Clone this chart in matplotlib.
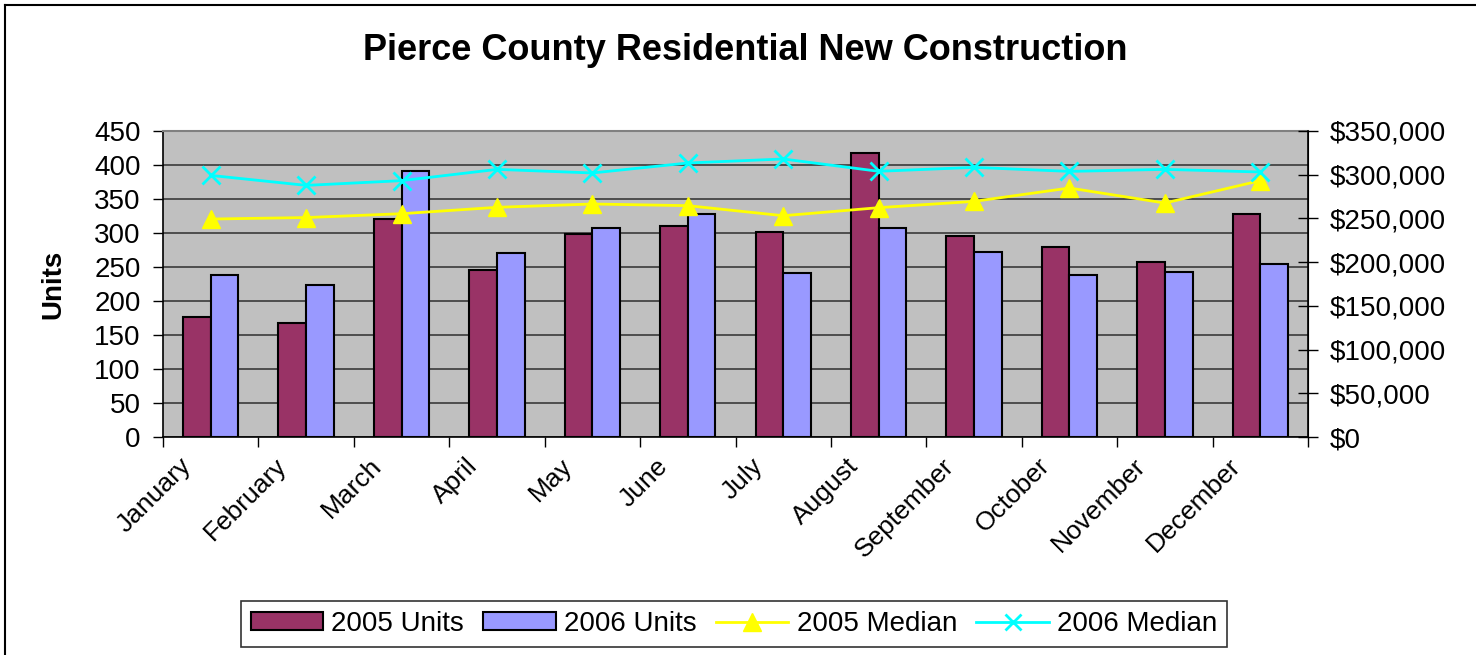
import matplotlib
matplotlib.use("Agg")
import matplotlib.pyplot as plt
import numpy as np
from matplotlib.ticker import FuncFormatter, MultipleLocator, FixedLocator
from matplotlib.transforms import ScaledTranslation
from matplotlib.lines import Line2D
from matplotlib.patches import Patch

plt.rcParams['font.family'] = ['Liberation Sans', 'DejaVu Sans']

months = ["January", "February", "March", "April", "May", "June", "July",
          "August", "September", "October", "November", "December"]
units_2005 = [176, 167, 320, 246, 299, 311, 302, 417, 296, 279, 258, 328]
units_2006 = [238, 223, 391, 270, 308, 328, 241, 308, 272, 238, 243, 255]
median_2005 = [249300, 251000, 255400, 262700, 266500, 264600, 253100, 262300, 269500, 284800, 267600, 293200]
median_2006 = [299200, 287800, 293200, 306100, 302000, 313400, 318000, 303900, 308400, 303800, 306100, 303100]

c2005 = "#993366"
c2006 = "#9999FF"

fig = plt.figure(figsize=(14.76, 6.55), dpi=100)
ax = fig.add_axes([163 / 1476, 1 - 437 / 655, (1308 - 163) / 1476, (437 - 131) / 655])
ax.set_facecolor("#C0C0C0")

x = np.arange(len(months))
w = 0.29
ax.bar(x - w / 2, units_2005, w, color=c2005, edgecolor="black", linewidth=1.5, zorder=2)
ax.bar(x + w / 2, units_2006, w, color=c2006, edgecolor="black", linewidth=1.5, zorder=2)

ax.set_xlim(-0.5, len(months) - 0.5)
ax.set_ylim(0, 450)
ax.yaxis.set_major_locator(MultipleLocator(50))
ax.set_axisbelow(True)
ax.grid(axis="y", color="#3a3a3a", linewidth=1.2)

# month boundaries as major ticks, names as minor ticks at category centres
ax.xaxis.set_major_locator(FixedLocator(np.arange(len(months) + 1) - 0.5))
ax.xaxis.set_major_formatter(FuncFormatter(lambda v, p: ""))
ax.xaxis.set_minor_locator(FixedLocator(x))
ax.set_xticklabels(months, minor=True, rotation=45, ha="right", fontsize=19)
ax.tick_params(axis="x", which="major", direction="out", length=7, width=1)
ax.tick_params(axis="x", which="minor", length=0, pad=12)
for lab in ax.get_xticklabels(minor=True):
    lab.set_transform(lab.get_transform() + ScaledTranslation(-0.15, 0, fig.dpi_scale_trans))

ax.tick_params(axis="y", direction="out", length=7, width=1, pad=9, labelsize=20)
ax.set_ylabel("Units", fontsize=20, fontweight="bold", labelpad=20)

for s in ["left", "bottom"]:
    ax.spines[s].set_color("black")
    ax.spines[s].set_linewidth(1.2)
ax.spines["top"].set_color("#808080")
ax.spines["top"].set_linewidth(1.5)
ax.spines["right"].set_color("black")

ax2 = ax.twinx()
ax2.plot(x, median_2005, color="#FFFF00", linewidth=2, marker="^", markersize=13,
         markerfacecolor="#FFFF00", markeredgecolor="#FFFF00", zorder=3)
ax2.plot(x, median_2006, color="#00FFFF", linewidth=2, marker="x", markersize=13,
         markeredgewidth=2, zorder=3)
ax2.set_ylim(0, 350000)
ax2.yaxis.set_major_locator(MultipleLocator(50000))
ax2.yaxis.set_major_formatter(FuncFormatter(lambda v, p: "${:,.0f}".format(v)))
ax2.tick_params(axis="y", direction="inout", length=14, width=1, pad=9, labelsize=20)
for s in ["left", "top", "bottom"]:
    ax2.spines[s].set_visible(False)
ax2.spines["right"].set_color("black")
ax2.spines["right"].set_linewidth(1.2)

fig.text(745 / 1476, 1 - 50 / 655, "Pierce County Residential New Construction",
         ha="center", va="center", fontsize=26, fontweight="bold")

handles = [Patch(facecolor=c2005, edgecolor="black", linewidth=1.5),
           Patch(facecolor=c2006, edgecolor="black", linewidth=1.5),
           Line2D([], [], color="#FFFF00", linewidth=2, marker="^", markersize=13),
           Line2D([], [], color="#00FFFF", linewidth=2, marker="x", markersize=12, markeredgewidth=2)]
labels = ["2005 Units", "2006 Units", "2005 Median", "2006 Median"]
leg = fig.legend(handles, labels, loc="center", bbox_to_anchor=(734 / 1476, 1 - 624 / 655),
                 ncol=4, fontsize=20, frameon=True, fancybox=False, edgecolor="black",
                 handlelength=2.6, handleheight=0.6, handletextpad=0.3, columnspacing=0.7,
                 borderpad=0.35)
leg.get_frame().set_linewidth(1.2)

# outer chart border (left and top visible in the source)
fig.add_artist(Line2D([5 / 1476, 5 / 1476], [0, 1 - 5 / 655], transform=fig.transFigure,
                      color="black", linewidth=1.5))
fig.add_artist(Line2D([5 / 1476, 1], [1 - 5 / 655, 1 - 5 / 655], transform=fig.transFigure,
                      color="black", linewidth=1.5))

fig.savefig("out.png", dpi=100)
